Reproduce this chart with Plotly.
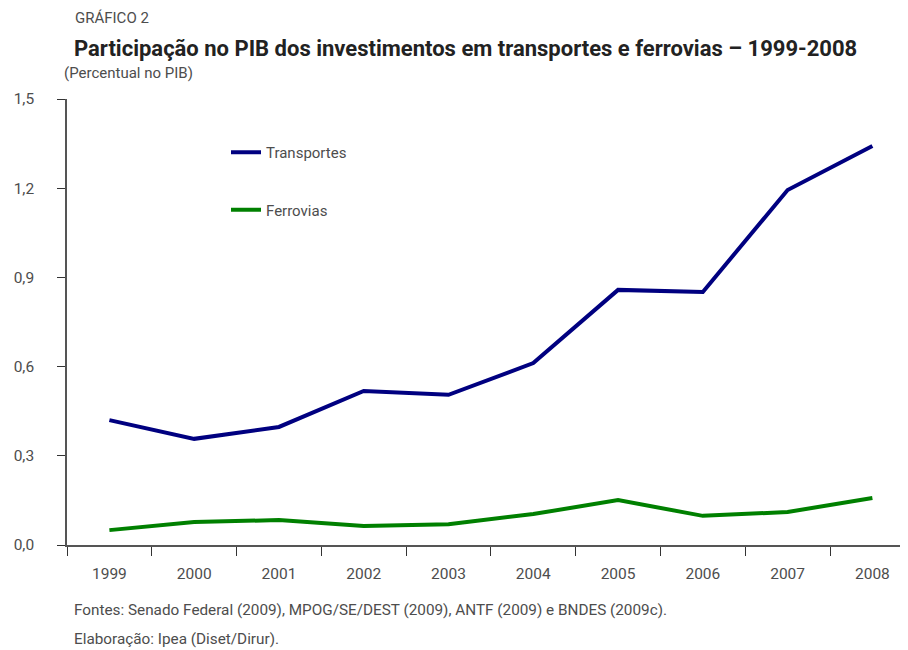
import plotly.graph_objects as go

years = ["1999", "2000", "2001", "2002", "2003", "2004", "2005", "2006", "2007", "2008"]
transportes = [0.42, 0.357, 0.397, 0.518, 0.505, 0.612, 0.858, 0.851, 1.194, 1.342]
ferrovias = [0.05, 0.077, 0.084, 0.064, 0.07, 0.104, 0.151, 0.098, 0.111, 0.158]

FONT = "Roboto, Arial, sans-serif"
GREY_TXT = "#4d4d4d"

# page is shown with an 8px body margin, so work in page pixels and shift
OFF = 8
W, H = 908 - OFF, 650 - OFF
L, R, T, B = 67 - OFF, 0, 99 - OFF, 105
PW, PH = W - L - R, H - T - B


def px(x):
    return (x - OFF - L) / PW


def py(y):
    return (H - B - (y - OFF)) / PH


fig = go.Figure()

fig.add_trace(
    go.Scatter(
        x=years, y=transportes, mode="lines", name="Transportes",
        line=dict(color="#000080", width=4), legendgroup="a",
    )
)
fig.add_trace(
    go.Scatter(
        x=years, y=ferrovias, mode="lines", name="Ferrovias",
        line=dict(color="#008000", width=4), legendgroup="b",
    )
)

texts = [
    # text, x, y, size, bold
    ("GRÁFICO 2", 73, 18, 15, False),
    ("<b>Participação no PIB dos investimentos em transportes e ferrovias – 1999-2008</b>", 72, 48, 22, True),
    ("(Percentual no PIB)", 62, 73, 15, False),
    ("Fontes: Senado Federal (2009), MPOG/SE/DEST (2009), ANTF (2009) e BNDES (2009c).", 72, 610, 15.3, False),
    ("Elaboração: Ipea (Diset/Dirur).", 72, 639, 15.3, False),
]
annotations = [
    dict(
        text=t, x=px(x), y=py(y), xref="paper", yref="paper",
        xanchor="left", yanchor="middle", showarrow=False,
        font=dict(family=FONT, size=s, color="#222222" if b else GREY_TXT),
    )
    for t, x, y, s, b in texts
]

fig.update_layout(
    width=W, height=H,
    margin=dict(l=L, r=R, t=T, b=B),
    plot_bgcolor="white", paper_bgcolor="white",
    separators=",.",
    font=dict(family=FONT, size=15, color=GREY_TXT),
    showlegend=True,
    legend=dict(
        x=px(226), y=py(136), xanchor="left", yanchor="top",
        font=dict(size=15, color=GREY_TXT), tracegroupgap=35,
        bgcolor="rgba(0,0,0,0)",
    ),
    annotations=annotations,
    xaxis=dict(
        type="category", range=[-0.5, 9.42], tickson="boundaries",
        showline=True, linecolor="#555555", linewidth=1.5,
        ticks="outside", ticklen=9, tickcolor="#333333",
        showgrid=False, zeroline=False, ticklabelstandoff=14,
        tickfont=dict(size=15.5),
    ),
    yaxis=dict(
        range=[0, 1.5], dtick=0.3, tickformat=".1f",
        showline=True, linecolor="#555555", linewidth=1.5,
        ticks="outside", ticklen=8, tickcolor="#333333",
        showgrid=False, zeroline=False, ticklabelstandoff=20,
        tickfont=dict(size=15.5),
    ),
)

fig.write_html("out.html")
